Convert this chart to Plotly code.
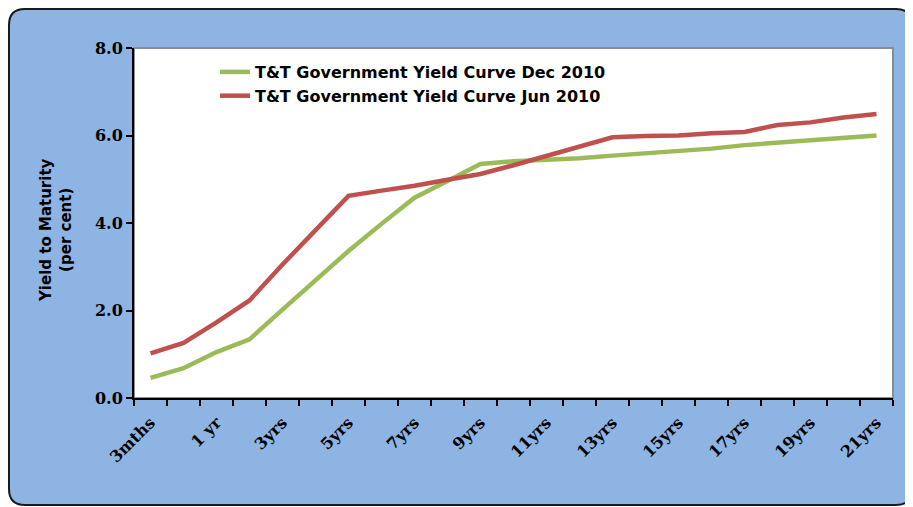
import plotly.graph_objects as go

# ---- data ----
categories = ["3mths", "6mths", "1 yr", "2yrs", "3yrs", "4yrs", "5yrs", "6yrs",
              "7yrs", "8yrs", "9yrs", "10yrs", "11yrs", "12yrs", "13yrs", "14yrs",
              "15yrs", "16yrs", "17yrs", "18yrs", "19yrs", "20yrs", "21yrs"]
dec_2010 = [0.46, 0.68, 1.05, 1.34, 2.02, 2.70, 3.36, 3.98, 4.58, 4.96, 5.35, 5.41,
            5.44, 5.48, 5.54, 5.59, 5.64, 5.70, 5.78, 5.84, 5.89, 5.95, 6.00]
jun_2010 = [1.02, 1.26, 1.73, 2.23, 3.05, 3.85, 4.62, 4.74, 4.85, 4.99, 5.12, 5.32,
            5.53, 5.75, 5.96, 5.99, 6.00, 6.05, 6.08, 6.24, 6.30, 6.41, 6.49]
y_ticks = [0, 2, 4, 6, 8]
series_names = ["T&T Government Yield Curve Dec 2010", "T&T Government Yield Curve Jun 2010"]

x_idx = list(range(len(categories)))
label_idx = x_idx[::2]
label_txt = categories[::2]
boundaries = [i - 0.5 for i in range(len(categories) + 1)]

# ---- geometry (page pixels; the page body adds an 8px offset) ----
OFF = 8
W, H = 913 - OFF, 507 - OFF
PL, PR, PT, PB = 134, 893, 48, 398          # plot area in page pixels
L, T = PL - OFF, PT - OFF
R, B = W - (PR - OFF), H - (PB - OFF)
pw, ph = PR - PL, PB - PT


def px(X):
    return (X - PL) / pw


def py(Y):
    return (PB - Y) / ph


def rounded_rect(x0, y0, x1, y1, r):
    pts = [
        ("M", (x0 + r, y0)), ("L", (x1 - r, y0)), ("Q", (x1, y0), (x1, y0 + r)),
        ("L", (x1, y1 - r)), ("Q", (x1, y1), (x1 - r, y1)),
        ("L", (x0 + r, y1)), ("Q", (x0, y1), (x0, y1 - r)),
        ("L", (x0, y0 + r)), ("Q", (x0, y0), (x0 + r, y0)),
    ]
    s = ""
    for p in pts:
        coords = " ".join(f"{px(a):.5f},{py(b):.5f}" for a, b in p[1:])
        s += f"{p[0]} {coords} "
    return s + "Z"


fig = go.Figure()
fig.add_trace(go.Scatter(x=x_idx, y=dec_2010, mode="lines", name=series_names[0],
                         line=dict(color="#9BBB59", width=4.5)))
fig.add_trace(go.Scatter(x=x_idx, y=jun_2010, mode="lines", name=series_names[1],
                         line=dict(color="#C0504D", width=4.5)))

fig.update_layout(
    width=W, height=H,
    margin=dict(l=L, r=R, t=T, b=B, pad=0),
    paper_bgcolor="white",
    plot_bgcolor="rgba(0,0,0,0)",
    showlegend=True,
    legend=dict(x=px(215), y=py(55), xanchor="left", yanchor="top",
                bgcolor="rgba(0,0,0,0)",
                font=dict(family="DejaVu Sans", size=16, color="black", weight="bold"),
                tracegroupgap=0, itemwidth=30),
    xaxis=dict(
        range=[-0.5, len(categories) - 0.5],
        tickmode="array", tickvals=label_idx, ticktext=label_txt,
        tickangle=-45, ticks="", ticklabelstandoff=7,
        tickfont=dict(family="DejaVu Serif", size=16, color="black", weight="bold"),
        showline=True, linecolor="black", linewidth=2,
        showgrid=False, zeroline=False,
        minor=dict(tickmode="array", tickvals=boundaries, ticks="outside",
                   ticklen=6, tickwidth=2, tickcolor="black", showgrid=False),
    ),
    yaxis=dict(
        range=[0, 8], tickmode="array", tickvals=y_ticks, tickformat=".1f",
        ticks="outside", ticklen=6, tickwidth=2, tickcolor="black",
        tickfont=dict(family="DejaVu Serif", size=16, color="black", weight="bold"),
        showline=True, linecolor="black", linewidth=2,
        showgrid=False, zeroline=False,
    ),
    shapes=[
        dict(type="path", xref="paper", yref="paper", layer="below",
             path=rounded_rect(OFF + 1, OFF + 1, 912, 505, 16),
             fillcolor="#8EB4E3", line=dict(color="#1a1a1a", width=2)),
        dict(type="rect", xref="paper", yref="paper", layer="below",
             x0=0, y0=0, x1=1, y1=1, fillcolor="white",
             line=dict(color="#8c8c8c", width=2)),
    ],
    annotations=[
        dict(text="Yield to Maturity<br>(per cent)", xref="paper", yref="paper",
             x=px(56), y=py(230), showarrow=False, textangle=-90,
             font=dict(family="DejaVu Sans", size=15, color="black", weight="bold"),
             xanchor="center", yanchor="middle"),
    ],
)

fig.write_html("out.html")
